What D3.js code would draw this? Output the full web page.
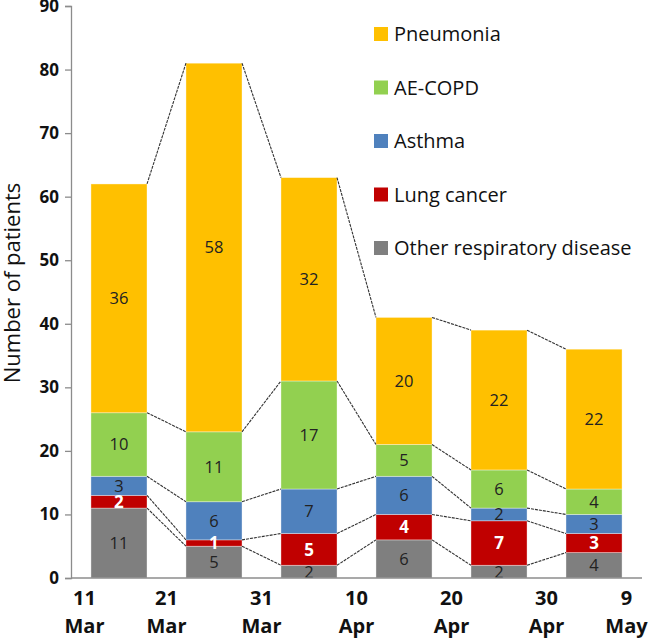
<!DOCTYPE html>
<html><head><meta charset="utf-8">
<script src="https://cdn.jsdelivr.net/npm/d3@7"></script>
<style>body{margin:0;background:#fff}svg{display:block}</style>
</head><body><svg id="c" width="650" height="639"></svg>
<script>
const periods = ["P1","P2","P3","P4","P5","P6"];
const dateDays = ["11","21","31","10","20","30","9"];
const dateMonths = ["Mar","Mar","Mar","Apr","Apr","Apr","May"];
const seriesNames = ["Other respiratory disease","Lung cancer","Asthma","AE-COPD","Pneumonia"];
const other = [11,5,2,6,2,4];
const lungCancer = [2,1,5,4,7,3];
const asthma = [3,6,7,6,2,3];
const aecopd = [10,11,17,5,6,4];
const pneumonia = [36,58,32,20,22,22];
const yTicks = [0,10,20,30,40,50,60,70,80,90];
const colors = ["#7f7f7f","#c00000","#4f81bd","#92d050","#ffc000"];
const labelColors = ["#222","#fff","#222","#222","#222"];
const legendOrder = [4,3,2,1,0];

const rows = periods.map((p,i)=>({p, s0:other[i], s1:lungCancer[i], s2:asthma[i], s3:aecopd[i], s4:pneumonia[i]}));
const keys = ["s0","s1","s2","s3","s4"];
const stack = d3.stack().keys(keys)(rows);

const svg = d3.select("#c");
const x = d3.scaleBand().domain(periods).range([71,642]).paddingInner(0.41).paddingOuter(0.21);
const y = d3.scaleLinear().domain([0,90]).range([578,6]);
const font = "'Open Sans', sans-serif";

// bars
stack.forEach((layer,k)=>{
  svg.append("g").selectAll("rect").data(layer).join("rect")
    .attr("x",d=>x(d.data.p)).attr("width",x.bandwidth())
    .attr("y",d=>y(d[1])).attr("height",d=>y(d[0])-y(d[1]))
    .attr("fill",colors[k]).attr("stroke","#ffffff").attr("stroke-opacity",0.45).attr("stroke-width",0.8);
});

// connector lines
const bw = x.bandwidth();
stack.forEach((layer)=>{
  for(let i=0;i<layer.length-1;i++){
    svg.append("line")
      .attr("x1",x(periods[i])+bw).attr("y1",y(layer[i][1]))
      .attr("x2",x(periods[i+1])).attr("y2",y(layer[i+1][1]))
      .attr("stroke","#333").attr("stroke-width",1.1).attr("stroke-dasharray","3,1");
  }
});

// value labels
stack.forEach((layer,k)=>{
  svg.append("g").selectAll("text").data(layer).join("text")
    .attr("x",d=>x(d.data.p)+bw/2)
    .attr("y",d=>(y(d[0])+y(d[1]))/2)
    .attr("dy","0.36em")
    .attr("text-anchor","middle")
    .attr("font-family",font).attr("font-size",k===1?"17px":"16.5px")
    .attr("font-weight",k===1?"bold":"normal")
    .attr("fill",labelColors[k])
    .text(d=>d[1]-d[0]);
});

// y axis
const yAxis = svg.append("g").attr("transform","translate(71,0)")
  .call(d3.axisLeft(y).tickValues(yTicks).tickSize(6).tickPadding(6));
yAxis.select(".domain").attr("stroke","#8c8c8c").attr("stroke-width",1.3);
yAxis.selectAll(".tick line").attr("stroke","#8c8c8c").attr("stroke-width",1.3);
yAxis.selectAll(".tick text").attr("font-family",font).attr("font-size","17px").attr("font-weight","bold").attr("fill","#111");

// x baseline
svg.append("line").attr("x1",71).attr("x2",642).attr("y1",y(0)).attr("y2",y(0))
  .attr("stroke","#8c8c8c").attr("stroke-width",1.3);

// date labels at band boundaries
const step = x.step();
const boundaries = dateDays.map((d,i)=>{
  let bx;
  if(i<periods.length) bx = x(periods[i]) - (step-bw)/2; else bx = x(periods[periods.length-1]) + bw + (step-bw)/2;
  if(i===0) bx += 13;
  if(i===dateDays.length-1) bx -= 15;
  return bx;
});
const dl = svg.append("g");
dateDays.forEach((d,i)=>{
  const t = dl.append("text").attr("x",boundaries[i]).attr("text-anchor","middle")
    .attr("font-family",font).attr("font-size","20px").attr("font-weight","bold").attr("fill","#111");
  t.append("tspan").attr("x",boundaries[i]).attr("y",605).text(d);
  t.append("tspan").attr("x",boundaries[i]).attr("y",633).text(dateMonths[i]);
});

// y title
svg.append("text").attr("transform","translate(20,283) rotate(-90)")
  .attr("text-anchor","middle").attr("font-family",font).attr("font-size","22px").attr("fill","#111")
  .text("Number of patients");

// legend
const lg = svg.append("g");
legendOrder.forEach((k,j)=>{
  const cy = 34 + j*53.5;
  lg.append("rect").attr("x",374).attr("y",cy-7).attr("width",14).attr("height",14).attr("fill",colors[k]);
  lg.append("text").attr("x",394).attr("y",cy).attr("dy","0.36em")
    .attr("font-family",font).attr("font-size","20px").attr("fill","#111").text(seriesNames[k]);
});
</script></body></html>
